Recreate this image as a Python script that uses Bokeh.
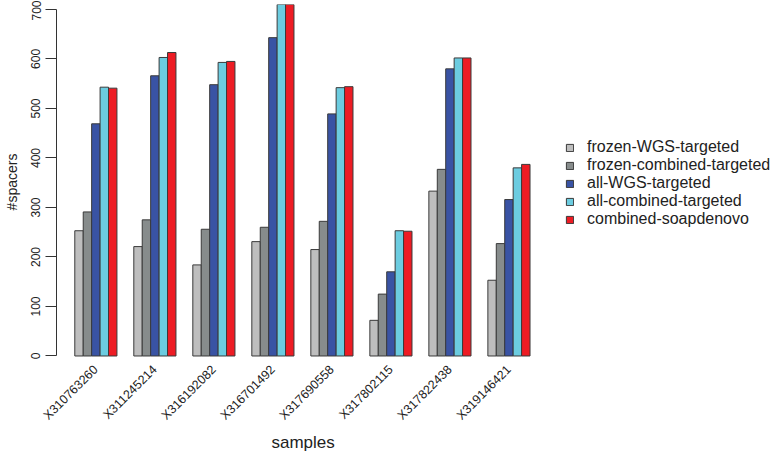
import math
from bokeh.plotting import figure
from bokeh.models import Range1d, FixedTicker, Legend, LegendItem, ColumnDataSource, Title
from bokeh.embed import file_html
from bokeh.resources import INLINE

samples = ["X310763260", "X311245214", "X316192082", "X316701492",
           "X317690558", "X317802115", "X317822438", "X319146421"]
series_names = ["frozen-WGS-targeted", "frozen-combined-targeted", "all-WGS-targeted",
                "all-combined-targeted", "combined-soapdenovo"]
frozen_wgs = [253, 221, 184, 231, 215, 72, 333, 153]
frozen_comb = [291, 275, 256, 260, 272, 125, 377, 227]
all_wgs = [469, 566, 548, 643, 489, 170, 580, 316]
all_comb = [543, 603, 593, 710, 542, 253, 602, 380]
soap = [541, 613, 595, 710, 544, 252, 602, 387]
colors = ["#BEBEBE", "#878C8C", "#3953A4", "#6CCCE0", "#ED1C24"]
y_ticks = [0, 100, 200, 300, 400, 500, 600, 700]

series = [frozen_wgs, frozen_comb, all_wgs, all_comb, soap]
n_groups = len(samples)
period = 7  # 5 bars + gap of 2 bar widths
group_centers = [4 + period * g for g in range(n_groups)]

FONT = "Liberation Sans"
TXT = "#222222"

p = figure(width=775, height=451, output_backend="svg", toolbar_location=None,
           x_range=Range1d(-0.67, 84.62), y_range=Range1d(-7.1, 710),
           min_border_left=56, min_border_right=0, min_border_top=4,
           min_border_bottom=92)
p.outline_line_color = None
p.xgrid.visible = False
p.ygrid.visible = False
p.background_fill_color = "white"
p.border_fill_color = "white"

items = []
for k, (vals, name, col) in enumerate(zip(series, series_names, colors)):
    xs = [2 + period * g + k for g in range(n_groups)]
    src = ColumnDataSource(dict(x=xs, top=vals))
    r = p.vbar(x="x", top="top", bottom=0, width=1, source=src,
               fill_color=col, line_color="#3a3a3a", line_width=1)
    items.append(LegendItem(label=name, renderers=[r]))

xa = p.xaxis[0]
xa.ticker = FixedTicker(ticks=group_centers)
xa.major_label_overrides = {c: s for c, s in zip(group_centers, samples)}
xa.major_label_orientation = math.pi / 4
xa.axis_line_color = None
xa.major_tick_line_color = None
xa.minor_tick_line_color = None
xa.major_label_text_font = FONT
xa.major_label_text_font_size = "12.5px"
xa.major_label_text_color = TXT
xa.major_label_standoff = 2

p.add_layout(Title(text="samples", align="left", offset=215, standoff=0,
                   text_font=FONT, text_font_size="17px", text_font_style="normal",
                   text_color=TXT), "below")

ya = p.yaxis[0]
ya.ticker = FixedTicker(ticks=y_ticks)
ya.bounds = (0, 700)
ya.major_label_orientation = "vertical"
ya.axis_line_color = "#333333"
ya.major_tick_line_color = "#333333"
ya.minor_tick_line_color = None
ya.major_tick_out = 11
ya.major_tick_in = 0
ya.major_label_standoff = 5
ya.major_label_text_font = FONT
ya.major_label_text_font_size = "12px"
ya.major_label_text_color = TXT
ya.axis_label = "#spacers"
ya.axis_label_text_font = FONT
ya.axis_label_text_font_size = "14px"
ya.axis_label_text_font_style = "normal"
ya.axis_label_text_color = TXT
ya.axis_label_standoff = 9

legend = Legend(items=items, location=(509, 131),
                glyph_width=9, glyph_height=9, label_text_font=FONT,
                label_text_font_size="16px", label_text_color=TXT,
                label_height=18, spacing=0, padding=0, margin=0,
                label_standoff=13, border_line_color=None,
                background_fill_alpha=0)
p.add_layout(legend, "center")

open("out.html", "w").write(file_html(p, INLINE))
